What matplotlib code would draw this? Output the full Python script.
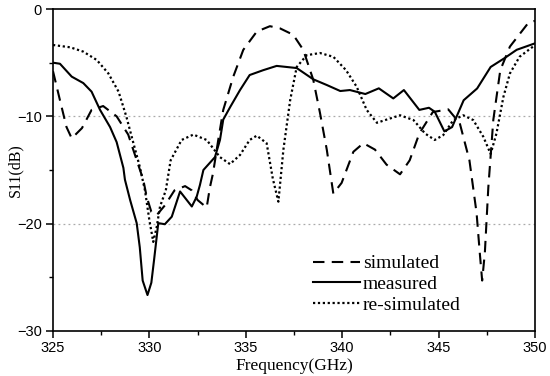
import numpy as np
from matplotlib import pyplot as plt
from matplotlib.ticker import MultipleLocator

# simulated (dashed)
sim_f = [325.0, 325.36, 325.7, 325.97, 326.5, 327.0, 327.6, 328.3, 328.9, 329.4, 329.68,
         329.86, 330.1, 330.38, 330.8, 331.3, 331.85, 332.2, 332.5, 332.97, 333.14, 333.3,
         333.57, 333.83, 334.35, 334.87, 335.57, 336.25, 336.77, 337.46, 337.98, 338.5,
         338.85, 339.2, 339.54, 339.97, 340.58, 341.1, 341.7, 342.3, 343.0, 343.5, 344.0,
         344.7, 345.5, 346.1, 346.6, 346.97, 347.14, 347.26, 347.4, 347.58, 347.84, 348.2,
         348.7, 349.65, 350.0]
sim_s = [-5.8, -8.5, -11.0, -12.05, -11.1, -9.4, -9.04, -10.0, -11.7, -14.4, -15.9,
         -17.5, -18.9, -19.2, -18.3, -16.9, -16.5, -16.9, -17.8, -18.5, -16.6, -15.3,
         -12.2, -9.4, -6.3, -3.8, -2.1, -1.6, -1.8, -2.4, -3.8, -6.6,
         -9.7, -13.1, -17.2, -16.2, -13.3, -12.5, -13.1, -14.5, -15.4, -14.1, -11.6,
         -9.6, -9.35, -10.65, -14.1, -19.0, -22.8, -25.3, -22.7, -16.6, -10.3, -5.7,
         -3.5, -1.3, -1.1]

# measured (solid)
meas_f = [325.0, 325.36, 325.97, 326.57, 327.0, 327.44, 327.96, 328.3, 328.65, 328.73,
          329.0, 329.34, 329.5, 329.65, 329.9, 330.1, 330.24, 330.46, 330.8, 331.16,
          331.59, 332.2, 332.45, 332.62, 332.8, 333.4, 333.66, 333.83, 334.2, 334.7,
          335.2, 335.9, 336.6, 337.64, 338.5, 339.2, 339.9, 340.4, 341.2, 341.9, 342.65,
          343.2, 344.0, 344.5, 344.8, 345.3, 345.7, 346.3, 347.0, 347.7, 348.4, 349.05,
          349.9, 350.0]
meas_s = [-5.0, -5.1, -6.3, -6.9, -7.7, -9.4, -11.0, -12.4, -14.8, -15.9,
          -17.8, -19.95, -22.2, -25.3, -26.65, -25.5, -23.4, -19.95, -20.05, -19.35,
          -17.0, -18.4, -17.5, -16.4, -15.0, -13.8, -12.2, -10.3, -9.1, -7.55,
          -6.15, -5.7, -5.3, -5.5, -6.55, -7.08, -7.64, -7.55, -7.92, -7.39, -8.33,
          -7.55, -9.4, -9.2, -9.57, -11.4, -11.0, -8.5, -7.4, -5.4, -4.6, -3.8,
          -3.26, -3.2]

# re-simulated (dotted)
resim_f = [325.0, 325.9, 326.57, 327.27, 327.87, 328.4, 328.8, 329.17, 329.5, 329.77,
           330.0, 330.2, 330.38, 330.55, 330.85, 331.1, 331.67, 332.28, 332.97, 333.66,
           334.18, 334.7, 335.2, 335.57, 336.08, 336.4, 336.69, 336.95, 337.3, 337.64,
           338.16, 338.85, 339.54, 340.2, 340.75, 341.27, 341.8, 342.48, 343.0, 343.7,
           344.3, 344.8, 345.24, 345.76, 346.28, 346.8, 347.32, 347.7, 348.0, 348.36,
           348.7, 349.2, 349.9, 350.0]
resim_s = [-3.35, -3.57, -3.97, -4.75, -6.0, -7.7, -10.0, -12.5, -14.7, -16.9,
           -19.7, -21.7, -20.3, -18.4, -16.9, -14.1, -12.2, -11.7, -12.2, -13.8,
           -14.45, -13.6, -12.2, -11.8, -12.5, -15.8, -17.95, -13.1, -8.5, -5.4,
           -4.3, -4.1, -4.45, -5.7, -7.24, -9.4, -10.6, -10.2, -9.9, -10.35,
           -11.6, -12.2, -11.75, -10.35, -9.9, -10.35, -11.9, -13.5, -11.6, -8.2,
           -6.0, -4.45, -3.5, -3.4]

# tick labels in sans, axis labels and legend in serif
plt.rcParams['font.family'] = ['Liberation Sans', 'DejaVu Sans']
serif = ['Liberation Serif', 'DejaVu Serif']

fig = plt.figure(figsize=(5.5, 3.76), dpi=100)
ax = fig.add_axes([0.0964, 0.1197, 0.8763, 0.8563])

ax.axhline(-10, color='#aaaaaa', lw=0.9, ls=(0, (1.5, 2.5)), zorder=0)
ax.axhline(-20, color='#aaaaaa', lw=0.9, ls=(0, (1.5, 2.5)), zorder=0)

ax.plot(sim_f, sim_s, color='black', lw=1.5, ls=(0, (5.5, 3.5)), label='simulated')
ax.plot(meas_f, meas_s, color='black', lw=1.5, ls='-', label='measured')
ax.plot(resim_f, resim_s, color='black', lw=1.6, ls=(0, (1, 1.2)), label='re-simulated')

ax.set_xlim(325, 350)
ax.set_ylim(-30, 0)
ax.xaxis.set_major_locator(MultipleLocator(5))
ax.xaxis.set_minor_locator(MultipleLocator(2.5))
ax.yaxis.set_major_locator(MultipleLocator(10))
ax.yaxis.set_minor_locator(MultipleLocator(5))
ax.tick_params(which='major', direction='out', length=5, width=1.1, labelsize=10.5, pad=3)
ax.tick_params(axis='x', which='major', pad=2)
ax.tick_params(which='minor', direction='out', length=3, width=1.0)
for sp in ax.spines.values():
    sp.set_linewidth(1.2)

ax.set_xlabel('Frequency(GHz)', fontsize=12.5, family=serif)
ax.set_ylabel('S11(dB)', fontsize=11.5, family=serif)
ax.xaxis.set_label_coords(0.5, -0.083)
ax.yaxis.set_label_coords(-0.062, 0.5)

ax.legend(loc='lower left', bbox_to_anchor=(0.512, 0.012), frameon=False,
          prop={'family': serif, 'size': 14},
          handlelength=2.4, handletextpad=0.15, labelspacing=0.15, borderaxespad=0.3)

fig.savefig('out.png', dpi=100)
